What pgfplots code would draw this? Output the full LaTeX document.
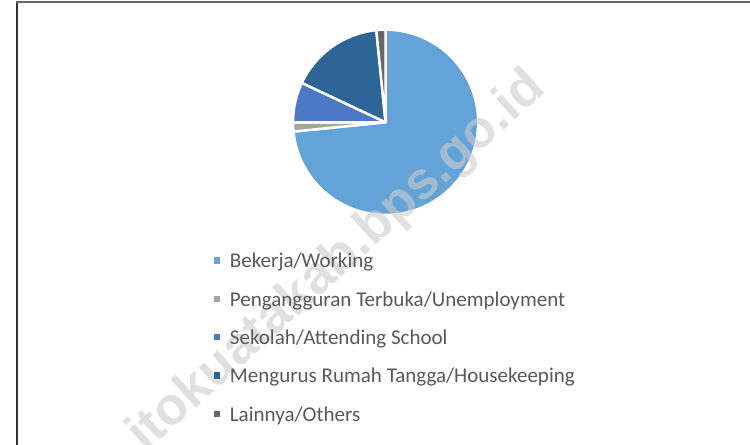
\documentclass[border=0pt]{standalone}
\usepackage{pgfplots}
\pgfplotsset{compat=1.18}
\usepackage{pgfplotstable}
\usepackage{fontspec}
\setmainfont{Carlito}
\newfontfamily\wmfont{Liberation Sans}
\definecolor{cWork}{HTML}{64A3D8}
\definecolor{cUnemp}{HTML}{A5A5A5}
\definecolor{cSchool}{HTML}{4D78C6}
\definecolor{cHouse}{HTML}{2D6696}
\definecolor{cOther}{HTML}{666666}
\definecolor{txt}{HTML}{595959}

\pgfplotstableread{
share
73.4
1.6
7.0
16.4
1.6
}\pietable

\begin{document}
\pgfmathsetmacro\aA{90}
\pgfplotstablegetelem{0}{share}\of\pietable \pgfmathsetmacro\aB{\aA-3.6*\pgfplotsretval}
\pgfplotstablegetelem{1}{share}\of\pietable \pgfmathsetmacro\aC{\aB-3.6*\pgfplotsretval}
\pgfplotstablegetelem{2}{share}\of\pietable \pgfmathsetmacro\aD{\aC-3.6*\pgfplotsretval}
\pgfplotstablegetelem{3}{share}\of\pietable \pgfmathsetmacro\aE{\aD-3.6*\pgfplotsretval}
\pgfplotstablegetelem{4}{share}\of\pietable \pgfmathsetmacro\aF{\aE-3.6*\pgfplotsretval}
\begin{tikzpicture}
\path[use as bounding box] (0pt,0pt) rectangle (750pt,453pt);
\clip (0pt,0pt) rectangle (750pt,453pt);
\begin{axis}[
  at={(284.75pt,234.25pt)}, anchor=south west,
  scale only axis, width=188.5pt, height=188.5pt,
  xmin=-1, xmax=1, ymin=-1, ymax=1,
  hide axis, clip=false,
  legend cell align=left,
  legend style={at={(-0.4284,-0.2062)}, anchor=north west, draw=none, fill=none,
    inner sep=0pt, outer sep=0pt, row sep=19pt, column sep=10pt,
    font=\fontsize{21.4}{25}\selectfont, text=txt,
    nodes={inner sep=0pt, outer sep=0pt, text height=15pt, text depth=5pt}},
  legend image code/.code={\fill[#1, draw=none] (0pt,-0.8pt) rectangle (6.5pt,5.7pt);},
]
\addlegendimage{fill=cWork}
\addlegendimage{fill=cUnemp}
\addlegendimage{fill=cSchool}
\addlegendimage{fill=cHouse}
\addlegendimage{fill=cOther}
\filldraw[fill=cWork, draw=white, line width=2.5pt, line join=round] (axis cs:0,0) -- (axis cs:{cos(\aA)},{sin(\aA)}) arc[start angle=\aA, end angle=\aB, radius=94.25pt] -- cycle;
\filldraw[fill=cUnemp, draw=white, line width=2.5pt, line join=round] (axis cs:0,0) -- (axis cs:{cos(\aB)},{sin(\aB)}) arc[start angle=\aB, end angle=\aC, radius=94.25pt] -- cycle;
\filldraw[fill=cSchool, draw=white, line width=2.5pt, line join=round] (axis cs:0,0) -- (axis cs:{cos(\aC)},{sin(\aC)}) arc[start angle=\aC, end angle=\aD, radius=94.25pt] -- cycle;
\filldraw[fill=cHouse, draw=white, line width=2.5pt, line join=round] (axis cs:0,0) -- (axis cs:{cos(\aD)},{sin(\aD)}) arc[start angle=\aD, end angle=\aE, radius=94.25pt] -- cycle;
\filldraw[fill=cOther, draw=white, line width=2.5pt, line join=round] (axis cs:0,0) -- (axis cs:{cos(\aE)},{sin(\aE)}) arc[start angle=\aE, end angle=\aF, radius=94.25pt] -- cycle;
\node[rotate=42, font=\wmfont\bfseries\fontsize{53.5}{60}\selectfont, text=white!80!black, opacity=0.6] at (axis cs:-0.5199,-1.5119) {itokuatakab.bps.go.id};
\legend{Bekerja/Working, Pengangguran Terbuka/Unemployment, Sekolah/Attending School, Mengurus Rumah Tangga/Housekeeping, Lainnya/Others}
\end{axis}
\draw[line width=2pt, black!80] (4pt,0pt) -- (4pt,452pt);
\draw[line width=1.5pt, black!60] (3pt,451pt) -- (750pt,451pt);
\end{tikzpicture}
\end{document}
